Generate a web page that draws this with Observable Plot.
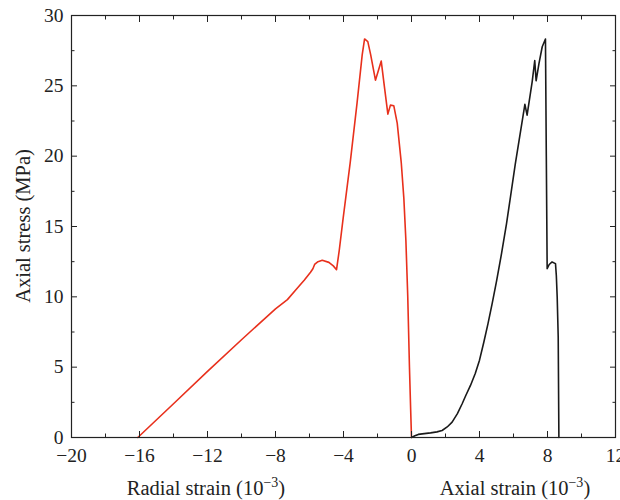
<!DOCTYPE html>
<html>
<head>
<meta charset="utf-8">
<script src="https://cdn.jsdelivr.net/npm/d3@7"></script>
<script src="https://cdn.jsdelivr.net/npm/@observablehq/plot@0.6"></script>
<style>
  html, body { margin: 0; padding: 0; background: #fff; }
</style>
</head>
<body>
<div id="chart"></div>
<script>
// Radial strain (10^-3) vs axial stress (MPa)
const radialX = [-16.1, -14, -12, -10, -8, -7.3, -6.8, -6.3, -5.94, -5.8, -5.7, -5.5, -5.25, -4.86, -4.6, -4.41, -4.25, -4.02, -3.6, -3.2, -2.9, -2.76, -2.57, -2.4, -2.12, -1.78, -1.6, -1.39, -1.24, -1.04, -0.84, -0.6, -0.45, -0.33, -0.22, -0.12, -0.05, 0];
const radialY = [0, 2.4, 4.7, 6.95, 9.15, 9.8, 10.5, 11.2, 11.75, 12.0, 12.3, 12.5, 12.6, 12.45, 12.2, 11.93, 13.3, 15.6, 19.6, 23.8, 27.2, 28.33, 28.14, 27.2, 25.4, 26.76, 25.0, 22.99, 23.63, 23.58, 22.35, 19.5, 17, 14, 10, 5, 2, 0];

// Axial strain (10^-3) vs axial stress (MPa)
const axialX = [0, 0.2, 0.4, 0.63, 1.12, 1.5, 1.8, 2.1, 2.39, 2.7, 2.98, 3.2, 3.47, 3.75, 4.0, 4.25, 4.5, 4.75, 5.0, 5.3, 5.59, 6.1, 6.67, 6.8, 7.1, 7.25, 7.33, 7.5, 7.69, 7.88, 7.93, 7.98, 8.1, 8.27, 8.47, 8.52, 8.57, 8.63, 8.67];
const axialY = [0, 0.12, 0.22, 0.26, 0.33, 0.4, 0.5, 0.75, 1.09, 1.7, 2.4, 3.0, 3.7, 4.55, 5.5, 6.75, 8.1, 9.55, 11.1, 13.1, 15.2, 19.4, 23.68, 22.92, 25.3, 26.8, 25.36, 26.6, 27.78, 28.33, 20, 12.0, 12.3, 12.48, 12.36, 11.5, 9.99, 7.14, 0];

const xTicks = [-20, -16, -12, -8, -4, 0, 4, 8, 12];
const xMinor = [-18, -14, -10, -6, -2, 2, 6, 10];
const yTicks = [0, 5, 10, 15, 20, 25, 30];
const yMinor = [2.5, 7.5, 12.5, 17.5, 22.5, 27.5];

const radial = radialX.map((x, i) => ({x, y: radialY[i]}));
const axial = axialX.map((x, i) => ({x, y: axialY[i]}));

const fmt = d3.format("d");

const chart = Plot.plot({
  width: 620,
  height: 500,
  marginLeft: 71,
  marginRight: 5,
  marginTop: 15,
  marginBottom: 63,
  style: {fontFamily: "Liberation Serif", fontSize: "19.5px", color: "#222", background: "#fff"},
  x: {domain: [-20, 12]},
  y: {domain: [0, 30]},
  marks: [
    Plot.line(radial, {x: "x", y: "y", stroke: "#e8301c", strokeWidth: 1.6}),
    Plot.line(axial, {x: "x", y: "y", stroke: "#1a1a1a", strokeWidth: 1.6}),
    // tick labels
    Plot.axisX(xTicks, {anchor: "bottom", tickSize: 0, tickPadding: 11, tickFormat: fmt, label: null}),
    Plot.axisY(yTicks, {anchor: "left", tickSize: 0, tickPadding: 8, tickFormat: fmt, label: null}),
    // inward major ticks
    Plot.axisX(xTicks, {anchor: "bottom", tickSize: 6, dy: -6, fill: "none", label: null}),
    Plot.axisX(xTicks, {anchor: "top", tickSize: 6, dy: 6, fill: "none", label: null}),
    Plot.axisY(yTicks, {anchor: "left", tickSize: 6, dx: 6, fill: "none", label: null}),
    Plot.axisY(yTicks, {anchor: "right", tickSize: 6, dx: -6, fill: "none", label: null}),
    // inward minor ticks
    Plot.axisX(xMinor, {anchor: "bottom", tickSize: 3.5, dy: -3.5, fill: "none", label: null}),
    Plot.axisX(xMinor, {anchor: "top", tickSize: 3.5, dy: 3.5, fill: "none", label: null}),
    Plot.axisY(yMinor, {anchor: "left", tickSize: 3.5, dx: 3.5, fill: "none", label: null}),
    Plot.axisY(yMinor, {anchor: "right", tickSize: 3.5, dx: -3.5, fill: "none", label: null}),
    Plot.frame({stroke: "#222", strokeWidth: 1.2})
  ]
});

document.getElementById("chart").appendChild(chart);

const svg = d3.select(chart);
function addLabel(x, y, rotate, main) {
  const t = svg.append("text")
    .attr("transform", `translate(${x},${y})` + (rotate ? " rotate(-90)" : ""))
    .attr("text-anchor", "middle")
    .attr("fill", "#222")
    .attr("font-family", "Liberation Serif")
    .attr("font-size", 20.5);
  t.append("tspan").text(main);
  return t;
}
function addStrainLabel(x, y, main) {
  const t = addLabel(x, y, false, main + " (10");
  t.append("tspan").attr("dy", -8).attr("font-size", 14).text("−3");
  t.append("tspan").attr("dy", 8).text(")");
}
addStrainLabel(206, 495, "Radial strain");
addStrainLabel(515, 495, "Axial strain");
addLabel(30, 226, true, "Axial stress (MPa)");
</script>
</body>
</html>
